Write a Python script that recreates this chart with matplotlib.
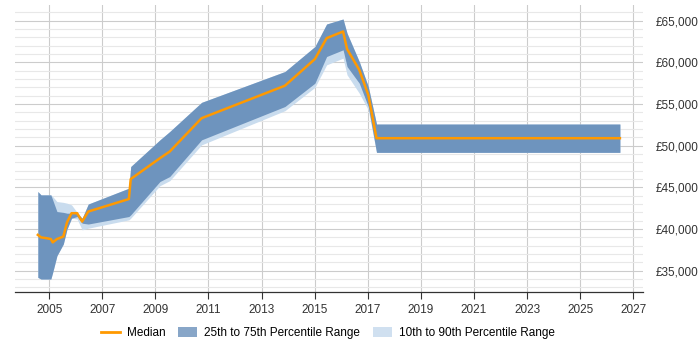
import matplotlib
matplotlib.use("Agg")
import matplotlib.pyplot as plt
from matplotlib.patches import Patch
from matplotlib.lines import Line2D
from matplotlib.ticker import MultipleLocator, FuncFormatter

plt.rcParams['font.family'] = ['Liberation Sans', 'DejaVu Sans']

years = [2004.57, 2004.69, 2004.90, 2005.06, 2005.13, 2005.29, 2005.53, 2005.67,
         2005.84, 2006.05, 2006.24, 2006.47, 2008.00, 2008.07, 2009.17, 2009.54,
         2010.74, 2013.88, 2015.01, 2015.45, 2016.07, 2016.22, 2016.68, 2017.02,
         2017.33, 2026.50]
median = [39300, 39000, 38900, 38800, 38400, 38800, 39100, 40800,
          41900, 41900, 40900, 42100, 43600, 46000, 48500, 49300,
          53300, 57200, 60400, 62900, 63700, 61600, 59100, 56100,
          50900, 50900]
p75 = [44500, 44100, 44100, 44100, 43500, 42100, 42000, 41900,
       41900, 41900, 41300, 43000, 44900, 47500, 50700, 51700,
       55200, 58900, 61900, 64600, 65200, 63500, 60100, 57100,
       52600, 52600]
p90 = [44500, 44100, 44100, 44100, 43900, 43300, 43200, 43100,
       42900, 42000, 41300, 43000, 44900, 47500, 50700, 51700,
       55200, 58900, 61900, 64600, 65200, 63500, 60100, 57100,
       52600, 52600]
p25 = [34200, 34000, 34000, 34000, 34800, 36800, 38200, 40000,
       41300, 41500, 40700, 40600, 41500, 41700, 45700, 46300,
       50700, 54700, 57500, 60700, 61500, 59500, 57500, 54700,
       49200, 49200]
p10 = [34200, 34000, 34000, 34000, 34800, 36800, 38200, 40000,
       41300, 41200, 39900, 40100, 41100, 41300, 45200, 45800,
       50100, 54200, 57000, 59700, 60500, 58500, 56300, 54300,
       49200, 49200]
xticks = list(range(2005, 2028, 2))

fig = plt.figure(figsize=(7, 3.5), dpi=100)
ax = fig.add_axes([15/700, 1-292.3/350, (643-15)/700, (292.3-5)/350])

ax.fill_between(years, p10, p90, color='#c9dcee', lw=0, zorder=2)
ax.fill_between(years, p25, p75, color='#6e94be', lw=0, zorder=3)
ax.plot(years, median, color='#ff9900', lw=1.8, zorder=4)

ax.set_xlim(2003.71, 2027.37)
ax.set_ylim(32410, 66880)
ax.set_xticks(xticks)
ax.yaxis.set_major_locator(MultipleLocator(5000))
ax.yaxis.set_minor_locator(MultipleLocator(1000))
ax.yaxis.tick_right()
ax.yaxis.set_major_formatter(FuncFormatter(lambda v, p: '£{:,.0f}'.format(v)))
ax.tick_params(axis='y', which='both', length=0, pad=9, labelsize=8.5, colors='#333333')
ax.tick_params(axis='x', length=5, width=0.8, color='#333333', labelsize=8.5, labelcolor='#333333')
ax.grid(axis='y', which='major', color='#cccccc', lw=0.8, zorder=0)
ax.grid(axis='y', which='minor', color='#e8e8e8', lw=0.8, zorder=0)
ax.grid(axis='x', which='major', color='#cccccc', lw=0.8, zorder=0)
ax.set_axisbelow(True)
for s in ['top', 'left', 'right']:
    ax.spines[s].set_visible(False)
ax.spines['bottom'].set_color('#333333')
ax.spines['bottom'].set_linewidth(0.9)

handles = [Line2D([0], [0], color='#ff9900', lw=2),
           Patch(facecolor='#88a6c8', edgecolor='none'),
           Patch(facecolor='#d0e0f0', edgecolor='none')]
labels = ['Median', '25th to 75th Percentile Range', '10th to 90th Percentile Range']
fig.legend(handles, labels, loc='center', bbox_to_anchor=(328/700, 1-333/350),
           ncol=3, frameon=False, fontsize=8.5, handlelength=1.6, handleheight=0.9,
           columnspacing=1.1, handletextpad=0.6)

fig.savefig('out.png', dpi=100)
